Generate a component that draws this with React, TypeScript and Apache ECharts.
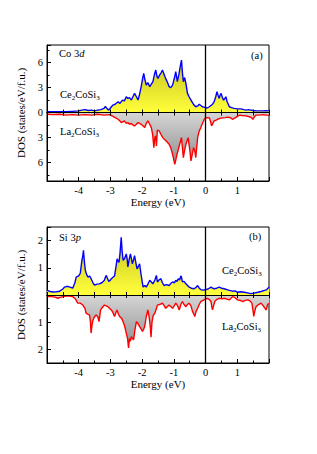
import React, { useEffect, useRef } from "react";
import * as echarts from "echarts";

// Energy (eV), DOS (states/eV/f.u.)
const coCe: [number, number][] = [
  [-5.0,0.12],[-4.8,0.1],[-4.6,0.12],[-4.4,0.1],[-4.2,0.15],[-4.0,0.2],[-3.9,0.3],[-3.8,0.35],[-3.7,0.25],[-3.6,0.3],
  [-3.5,0.2],[-3.4,0.3],[-3.3,0.35],[-3.2,0.5],[-3.16,0.75],[-3.1,0.45],[-3.05,0.3],[-3.0,0.55],[-2.92,0.9],[-2.85,1.0],
  [-2.76,1.3],[-2.7,1.1],[-2.62,1.5],[-2.56,1.4],[-2.5,1.9],[-2.45,1.7],[-2.4,1.8],[-2.34,1.5],[-2.29,1.9],[-2.24,2.3],
  [-2.18,1.9],[-2.13,1.5],[-2.08,2.2],[-2.03,3.1],[-1.98,4.2],[-1.95,4.7],[-1.91,3.9],[-1.87,3.3],[-1.82,3.6],[-1.76,3.1],
  [-1.71,3.4],[-1.66,3.7],[-1.61,4.6],[-1.57,5.1],[-1.53,4.3],[-1.5,4.1],[-1.45,4.5],[-1.4,4.8],[-1.36,5.1],[-1.31,4.6],
  [-1.26,4.1],[-1.2,3.6],[-1.15,3.1],[-1.1,3.0],[-1.04,3.3],[-0.98,4.2],[-0.94,4.9],[-0.89,3.7],[-0.84,4.6],[-0.8,5.5],
  [-0.76,6.3],[-0.73,4.8],[-0.7,3.7],[-0.66,4.2],[-0.62,3.5],[-0.57,2.3],[-0.52,1.9],[-0.46,1.5],[-0.4,1.1],[-0.35,0.85],
  [-0.31,0.7],[-0.25,0.8],[-0.2,1.0],[-0.15,0.85],[-0.1,0.7],[-0.05,0.65],[0,0.6],[0.05,0.55],[0.12,0.7],[0.17,0.85],
  [0.22,1.0],[0.27,1.3],[0.32,1.9],[0.36,2.5],[0.4,2.0],[0.43,1.7],[0.46,2.1],[0.49,2.3],[0.53,1.8],[0.57,1.5],
  [0.61,1.7],[0.64,1.9],[0.68,1.3],[0.75,0.7],[0.82,0.6],[0.9,0.5],[1.0,0.45],[1.12,0.45],[1.2,0.35],[1.28,0.3],
  [1.35,0.35],[1.43,0.3],[1.5,0.25],[1.6,0.2],[1.7,0.2],[1.8,0.2],[1.9,0.22],[2.0,0.2],
];

const coLa: [number, number][] = [
  [-5.0,-0.2],[-4.8,-0.25],[-4.6,-0.2],[-4.4,-0.3],[-4.2,-0.25],[-4.0,-0.3],[-3.8,-0.25],[-3.6,-0.3],[-3.4,-0.2],[-3.2,-0.3],
  [-3.02,-0.25],[-2.92,-0.45],[-2.85,-0.6],[-2.76,-0.8],[-2.7,-1.0],[-2.66,-1.2],[-2.61,-1.1],[-2.56,-1.0],[-2.5,-1.3],[-2.45,-1.2],
  [-2.4,-1.4],[-2.34,-1.3],[-2.29,-1.5],[-2.24,-1.6],[-2.18,-1.4],[-2.13,-1.2],[-2.08,-1.3],[-2.03,-1.4],[-1.97,-1.6],[-1.92,-1.8],
  [-1.87,-1.3],[-1.82,-1.0],[-1.76,-1.4],[-1.71,-1.8],[-1.67,-2.6],[-1.63,-4.2],[-1.6,-3.0],[-1.57,-2.8],[-1.55,-4.0],[-1.52,-2.1],
  [-1.46,-2.2],[-1.41,-2.6],[-1.35,-3.0],[-1.3,-3.2],[-1.22,-3.5],[-1.15,-3.8],[-1.1,-4.2],[-1.04,-5.0],[-0.97,-6.2],[-0.9,-5.0],
  [-0.83,-4.0],[-0.76,-3.0],[-0.73,-4.2],[-0.7,-5.4],[-0.66,-4.5],[-0.62,-3.8],[-0.55,-3.0],[-0.5,-4.4],[-0.46,-5.8],[-0.42,-5.0],
  [-0.38,-4.2],[-0.34,-4.6],[-0.31,-5.4],[-0.25,-3.0],[-0.2,-2.2],[-0.15,-1.8],[-0.1,-1.3],[-0.04,-0.8],[0,-0.65],[0.06,-0.6],
  [0.12,-0.65],[0.16,-1.1],[0.19,-1.6],[0.23,-1.3],[0.27,-1.0],[0.33,-0.9],[0.38,-0.8],[0.45,-0.7],[0.54,-0.64],[0.62,-0.6],
  [0.7,-0.55],[0.78,-0.6],[0.85,-0.8],[0.93,-0.64],[1.0,-0.45],[1.07,-0.3],[1.15,-0.35],[1.28,-0.4],[1.38,-0.5],[1.45,-0.6],
  [1.49,-0.8],[1.54,-0.5],[1.59,-0.3],[1.7,-0.3],[1.8,-0.25],[1.9,-0.3],[2.0,-0.3],
];

const siCe: [number, number][] = [
  [-5.0,0.17],[-4.9,0.13],[-4.8,0.11],[-4.7,0.12],[-4.6,0.14],[-4.5,0.22],[-4.45,0.29],[-4.35,0.32],[-4.25,0.28],[-4.19,0.25],
  [-4.12,0.45],[-4.08,0.66],[-4.0,0.7],[-3.95,0.8],[-3.9,1.27],[-3.87,1.45],[-3.85,1.64],[-3.82,1.2],[-3.79,0.9],[-3.75,0.75],
  [-3.71,0.66],[-3.66,0.7],[-3.61,0.6],[-3.55,0.45],[-3.5,0.36],[-3.42,0.4],[-3.35,0.41],[-3.27,0.45],[-3.19,0.54],[-3.16,0.65],
  [-3.13,0.72],[-3.09,0.6],[-3.05,0.5],[-3.0,0.55],[-2.97,0.6],[-2.92,0.65],[-2.87,0.7],[-2.83,1.0],[-2.79,1.33],[-2.76,1.25],
  [-2.73,1.2],[-2.7,1.5],[-2.66,2.12],[-2.63,1.6],[-2.6,1.27],[-2.55,1.35],[-2.5,1.51],[-2.47,1.3],[-2.45,1.03],[-2.41,1.3],
  [-2.37,1.51],[-2.34,1.35],[-2.31,1.15],[-2.27,1.3],[-2.24,1.45],[-2.2,1.2],[-2.16,0.96],[-2.12,1.05],[-2.08,1.15],[-2.04,0.8],
  [-2.0,0.5],[-1.97,0.29],[-1.92,0.35],[-1.87,0.29],[-1.82,0.4],[-1.76,0.54],[-1.71,0.48],[-1.66,0.41],[-1.6,0.55],[-1.55,0.72],
  [-1.52,0.48],[-1.47,0.55],[-1.41,0.6],[-1.36,0.45],[-1.31,0.35],[-1.23,0.38],[-1.15,0.35],[-1.1,0.42],[-1.04,0.48],[-0.98,0.45],
  [-0.94,0.54],[-0.9,0.5],[-0.86,0.6],[-0.82,0.55],[-0.78,0.7],[-0.76,0.66],[-0.73,0.48],[-0.68,0.5],[-0.62,0.41],[-0.57,0.35],
  [-0.52,0.29],[-0.45,0.25],[-0.36,0.23],[-0.3,0.28],[-0.25,0.35],[-0.2,0.25],[-0.15,0.2],[-0.08,0.18],[0,0.2],[0.08,0.22],
  [0.17,0.29],[0.22,0.25],[0.27,0.23],[0.35,0.25],[0.43,0.29],[0.5,0.25],[0.59,0.23],[0.67,0.2],[0.75,0.17],[0.85,0.14],
  [0.93,0.15],[1.01,0.1],[1.1,0.12],[1.22,0.1],[1.32,0.08],[1.43,0.05],[1.52,0.07],[1.65,0.1],[1.75,0.13],[1.86,0.17],
  [1.93,0.2],[2.0,0.29],
];

const siLa: [number, number][] = [
  [-5.0,-0.06],[-4.85,-0.06],[-4.75,-0.08],[-4.66,-0.12],[-4.55,-0.08],[-4.5,-0.06],[-4.35,-0.03],[-4.19,-0.06],[-4.1,-0.15],[-4.03,-0.3],
  [-3.95,-0.3],[-3.87,-0.37],[-3.8,-0.5],[-3.77,-0.67],[-3.72,-0.7],[-3.66,-0.73],[-3.63,-1.0],[-3.61,-1.4],[-3.58,-1.1],[-3.55,-0.92],
  [-3.5,-0.8],[-3.45,-0.73],[-3.4,-0.8],[-3.36,-0.98],[-3.31,-0.55],[-3.25,-0.45],[-3.19,-0.37],[-3.13,-0.4],[-3.08,-0.43],[-3.02,-0.5],
  [-2.97,-0.55],[-2.92,-0.65],[-2.87,-0.79],[-2.83,-0.65],[-2.79,-0.55],[-2.75,-0.7],[-2.71,-0.79],[-2.65,-0.85],[-2.6,-0.98],[-2.55,-1.15],
  [-2.5,-1.4],[-2.46,-1.6],[-2.43,-1.95],[-2.4,-1.6],[-2.37,-1.7],[-2.34,-1.53],[-2.3,-1.6],[-2.27,-1.65],[-2.23,-1.3],[-2.18,-0.98],
  [-2.13,-1.05],[-2.08,-1.16],[-2.03,-1.25],[-1.99,-1.34],[-1.95,-1.25],[-1.92,-1.16],[-1.87,-0.8],[-1.82,-0.55],[-1.78,-0.8],[-1.74,-1.2],
  [-1.72,-1.55],[-1.69,-1.0],[-1.65,-0.75],[-1.6,-0.67],[-1.55,-0.5],[-1.52,-0.37],[-1.45,-0.35],[-1.36,-0.3],[-1.3,-0.4],[-1.26,-0.49],
  [-1.2,-0.42],[-1.15,-0.37],[-1.1,-0.42],[-1.04,-0.49],[-0.98,-0.38],[-0.94,-0.3],[-0.88,-0.4],[-0.83,-0.55],[-0.78,-0.35],[-0.73,-0.24],
  [-0.68,-0.35],[-0.62,-0.43],[-0.57,-0.35],[-0.52,-0.3],[-0.46,-0.4],[-0.41,-0.61],[-0.37,-0.7],[-0.34,-0.79],[-0.3,-0.6],[-0.25,-0.49],
  [-0.2,-0.35],[-0.15,-0.24],[-0.05,-0.18],[0.06,-0.12],[0.13,-0.18],[0.17,-0.24],[0.2,-0.45],[0.22,-0.55],[0.25,-0.4],[0.29,-0.24],
  [0.36,-0.16],[0.43,-0.12],[0.52,-0.14],[0.59,-0.12],[0.67,-0.15],[0.75,-0.18],[0.85,-0.06],[0.93,-0.1],[1.01,-0.18],[1.1,-0.2],
  [1.17,-0.24],[1.25,-0.2],[1.33,-0.18],[1.4,-0.22],[1.46,-0.3],[1.5,-0.6],[1.52,-0.79],[1.55,-0.6],[1.59,-0.43],[1.67,-0.35],
  [1.75,-0.3],[1.82,-0.4],[1.88,-0.5],[1.91,-0.55],[1.96,-0.35],[2.0,-0.3],
];

const energyRange = [-5, 2];
const dosRangeCo = [-8.2, 8.1];
const dosRangeSi = [-2.5, 2.5];

const FONT = "Liberation Serif";

export default function App() {
  const ref = useRef<HTMLDivElement>(null);
  useEffect(() => {
    if (!ref.current) return;
    const chart = echarts.init(ref.current, undefined, { renderer: "svg" });

    const yellow = () =>
      new echarts.graphic.LinearGradient(0, 0, 0, 1, [
        { offset: 0, color: "#c8c41e" },
        { offset: 1, color: "#ffff3c" },
      ]);
    const gray = () =>
      new echarts.graphic.LinearGradient(0, 0, 0, 1, [
        { offset: 0, color: "#d6d6d6" },
        { offset: 1, color: "#8e8e8e" },
      ]);

    const bottomX = (grid: number) => ({
      type: "value",
      gridIndex: grid,
      position: "bottom",
      min: energyRange[0],
      max: energyRange[1],
      interval: 1,
      axisLine: { onZero: false, lineStyle: { color: "#000", width: 1 } },
      axisTick: { inside: true, length: 4, lineStyle: { color: "#000" } },
      minorTick: { show: true, splitNumber: 2, length: 2.5, lineStyle: { color: "#000" } },
      splitLine: { show: false },
      axisLabel: {
        margin: 4,
        color: "#000",
        fontFamily: FONT,
        fontSize: 10.5,
        formatter: (v: number) => (v <= energyRange[0] || v >= energyRange[1] ? "" : String(v)),
      },
      name: "Energy (eV)",
      nameLocation: "middle",
      nameGap: 15,
      nameTextStyle: { color: "#000", fontFamily: FONT, fontSize: 11 },
    });
    const zeroX = (grid: number, yIdx: number, inside: boolean) => ({
      type: "value",
      gridIndex: grid,
      position: "bottom",
      min: energyRange[0],
      max: energyRange[1],
      interval: 0.5,
      z: 6,
      axisLine: { onZero: true, onZeroAxisIndex: yIdx, lineStyle: { color: "#000", width: 1.2 } },
      axisTick: { inside, length: 3, lineStyle: { color: "#000" } },
      axisLabel: { show: false },
      splitLine: { show: false },
    });
    const leftY = (grid: number, range: number[], step: number, showZero: boolean) => ({
      type: "value",
      gridIndex: grid,
      min: range[0],
      max: range[1],
      splitNumber: 5,
      minInterval: step,
      maxInterval: step,
      axisLine: { onZero: false, lineStyle: { color: "#000", width: 1 } },
      axisTick: { inside: true, length: 4, lineStyle: { color: "#000" } },
      minorTick: { show: true, splitNumber: 2, length: 2.5, lineStyle: { color: "#000" } },
      splitLine: { show: false },
      axisLabel: {
        margin: 4,
        color: "#000",
        fontFamily: FONT,
        fontSize: 10.5,
        showMinLabel: false,
        showMaxLabel: false,
        formatter: (v: number) => {
          const a = Math.abs(v);
          const r = a / step;
          if (Math.abs(r - Math.round(r)) > 1e-6) return "";
          if (a < 1e-9 && !showZero) return "";
          return String(Math.round(a * 100) / 100);
        },
      },
      name: "DOS (states/eV/f.u.)",
      nameLocation: "middle",
      nameGap: 17,
      nameTextStyle: { color: "#000", fontFamily: FONT, fontSize: 11 },
    });

    const lineSeries = (xIdx: number, yIdx: number, data: [number, number][], color: string, area: any, mark: boolean) => ({
      type: "line",
      xAxisIndex: xIdx,
      yAxisIndex: yIdx,
      data,
      showSymbol: false,
      symbol: "none",
      lineStyle: { color, width: 1.4 },
      areaStyle: { color: area, opacity: 1 },
      z: 2,
      markLine: mark
        ? {
            silent: true,
            symbol: ["none", "none"],
            label: { show: false },
            lineStyle: { color: "#000", width: 1.3, type: "solid" },
            data: [{ xAxis: 0 }],
            z: 7,
          }
        : undefined,
    });

    const label = (text: string, left: number, top: number) => ({
      type: "text",
      left,
      top,
      z: 20,
      style: {
        text,
        fill: "#000",
        font: `10.5px "${FONT}"`,
        fontFamily: FONT,
        fontSize: 10.5,
        lineHeight: 14,
        rich: {
          s: { fontSize: 7, fontFamily: FONT, fill: "#000", verticalAlign: "bottom", lineHeight: 14 },
          i: { fontSize: 10.5, fontFamily: FONT, fontStyle: "italic", fill: "#000", lineHeight: 14 },
        },
      },
    });

    chart.setOption({
      animation: false,
      backgroundColor: "#fff",
      grid: [
        { left: 47, top: 45, width: 222, height: 136, show: true, borderColor: "#000", borderWidth: 1, backgroundColor: "transparent" },
        { left: 47, top: 227, width: 222, height: 136, show: true, borderColor: "#000", borderWidth: 1, backgroundColor: "transparent" },
      ],
      xAxis: [bottomX(0), zeroX(0, 0, true), zeroX(0, 0, false), bottomX(1), zeroX(1, 1, true), zeroX(1, 1, false)],
      yAxis: [leftY(0, dosRangeCo, 3, true), leftY(1, dosRangeSi, 1, false)],
      series: [
        lineSeries(0, 0, coCe, "#0000ff", yellow(), true),
        lineSeries(0, 0, coLa, "#ff0000", gray(), false),
        lineSeries(3, 1, siCe, "#0000ff", yellow(), true),
        lineSeries(3, 1, siLa, "#ff0000", gray(), false),
      ],
      graphic: [
        label("Co 3{i|d}", 59, 46),
        label("(a)", 251, 48),
        label("Ce{s|2}CoSi{s|3}", 60, 87),
        label("La{s|2}CoSi{s|3}", 60, 124),
        label("Si 3{i|p}", 59, 230),
        label("(b)", 249, 229),
        label("Ce{s|2}CoSi{s|3}", 222, 263),
        label("La{s|2}CoSi{s|3}", 222, 319),
      ],
    });
    return () => chart.dispose();
  }, []);
  return <div ref={ref} style={{ position: "fixed", left: 0, top: 0, width: 317, height: 454 }} />;
}
